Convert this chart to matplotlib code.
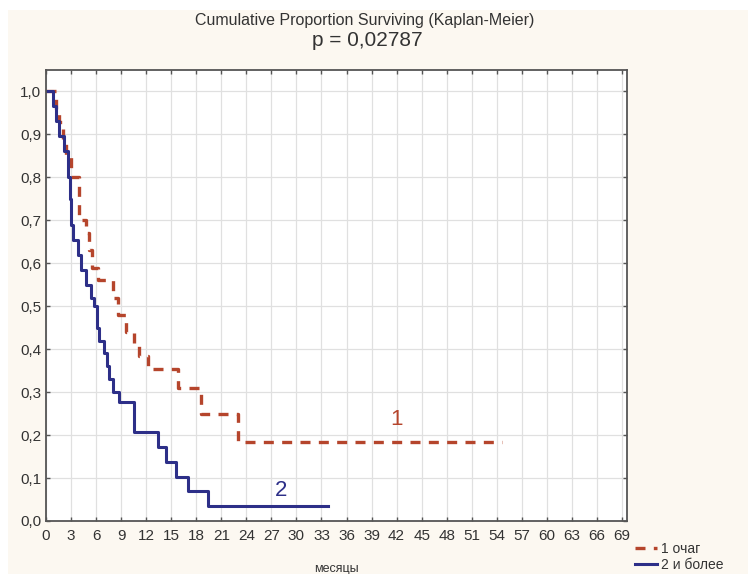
import matplotlib.pyplot as plt
from matplotlib.patches import Rectangle
from matplotlib import font_manager

# Kaplan-Meier step data (time in months, survival after the step)
t_one = [0, 1.2, 1.6, 2.0, 2.4, 3.0, 4.0, 4.8, 5.2, 5.5, 6.2, 8.0, 8.6, 9.6, 10.6, 11.2, 12.2, 15.8, 18.6, 23.0, 54.6]
s_one = [1.0, 0.96, 0.93, 0.89, 0.85, 0.80, 0.70, 0.67, 0.63, 0.59, 0.56, 0.52, 0.48, 0.44, 0.415, 0.385, 0.355, 0.31, 0.25, 0.185, 0.185]

t_two = [0, 0.8, 1.2, 1.6, 2.2, 2.6, 2.9, 3.0, 3.2, 3.8, 4.2, 4.8, 5.4, 5.8, 6.1, 6.3, 7.0, 7.3, 7.6, 8.0, 8.8, 10.6, 13.4, 14.4, 15.6, 17.0, 19.4, 33.8]
s_two = [1.0, 0.966, 0.931, 0.897, 0.862, 0.80, 0.75, 0.69, 0.655, 0.62, 0.585, 0.55, 0.52, 0.50, 0.45, 0.42, 0.39, 0.36, 0.33, 0.30, 0.276, 0.207, 0.172, 0.138, 0.103, 0.069, 0.0345, 0.0345]

x_ticks = list(range(0, 70, 3))
y_ticks = [0.0, 0.1, 0.2, 0.3, 0.4, 0.5, 0.6, 0.7, 0.8, 0.9, 1.0]
y_labels = ['0,0', '0,1', '0,2', '0,3', '0,4', '0,5', '0,6', '0,7', '0,8', '0,9', '1,0']
legend_labels = ['1 очаг', '2 и более']

names = {f.name for f in font_manager.fontManager.ttflist}
narrow = 'Liberation Sans Narrow' if 'Liberation Sans Narrow' in names else 'Liberation Sans'
plt.rcParams['font.family'] = [narrow, 'DejaVu Sans']

red = '#b5452c'
blue = '#2d2f88'
grey_text = '#333333'

fig = plt.figure(figsize=(7.48, 5.74), dpi=100, facecolor='white')
# cream background with a thin white margin at top and left
fig.patches.append(Rectangle((8 / 748, 0), 1, (574 - 10) / 574, transform=fig.transFigure,
                             facecolor='#fcf8f1', edgecolor='none', zorder=-10))

ax = fig.add_axes([46 / 748, 53 / 574, 581 / 748, 451 / 574])
ax.set_facecolor('white')

ax.step(t_one, s_one, where='post', color=red, linewidth=2.4, linestyle=(0, (3, 2.5)))
ax.step(t_two, s_two, where='post', color=blue, linewidth=2.2)

ax.set_xlim(0, 69.6)
ax.set_ylim(0, 1.05)
ax.set_xticks(x_ticks)
ax.set_yticks(y_ticks)
ax.set_yticklabels(y_labels)
ax.grid(True, color='#e0e0e0', linewidth=0.9)
ax.set_axisbelow(True)
ax.tick_params(direction='in', length=3, width=1, colors='#555555', labelcolor=grey_text,
               labelsize=11, top=True, right=True)
ax.tick_params(axis='x', pad=6)
for sp in ax.spines.values():
    sp.set_color('#555555')
    sp.set_linewidth(1.3)

ax.text(42, 0.236, '1', color=red, fontsize=16, ha='center', va='center', family=['Liberation Sans', 'DejaVu Sans'])
ax.text(28.2, 0.07, '2', color=blue, fontsize=16, ha='center', va='center', family=['Liberation Sans', 'DejaVu Sans'])

ax.set_xlabel('месяцы', fontsize=9, color=grey_text, labelpad=14)

fig.text(365 / 748, 1 - 21 / 574, 'Cumulative Proportion Surviving (Kaplan-Meier)',
         ha='center', va='center', fontsize=11.5, color=grey_text)
fig.text(367 / 748, 1 - 40 / 574, 'p = 0,02787', ha='center', va='center', fontsize=15, color=grey_text)

h1, = ax.plot([], [], color=red, linewidth=2.4, linestyle=(0, (3, 2.5)))
h2, = ax.plot([], [], color=blue, linewidth=2.2)
fig.legend([h1, h2], legend_labels, loc='upper left', bbox_to_anchor=(628 / 748, 1 - 535 / 574),
           frameon=False, fontsize=10, handlelength=1.6, handletextpad=0.3, labelspacing=0.15,
           borderpad=0, labelcolor=grey_text)

fig.savefig('out.png', dpi=100, facecolor=fig.get_facecolor())
